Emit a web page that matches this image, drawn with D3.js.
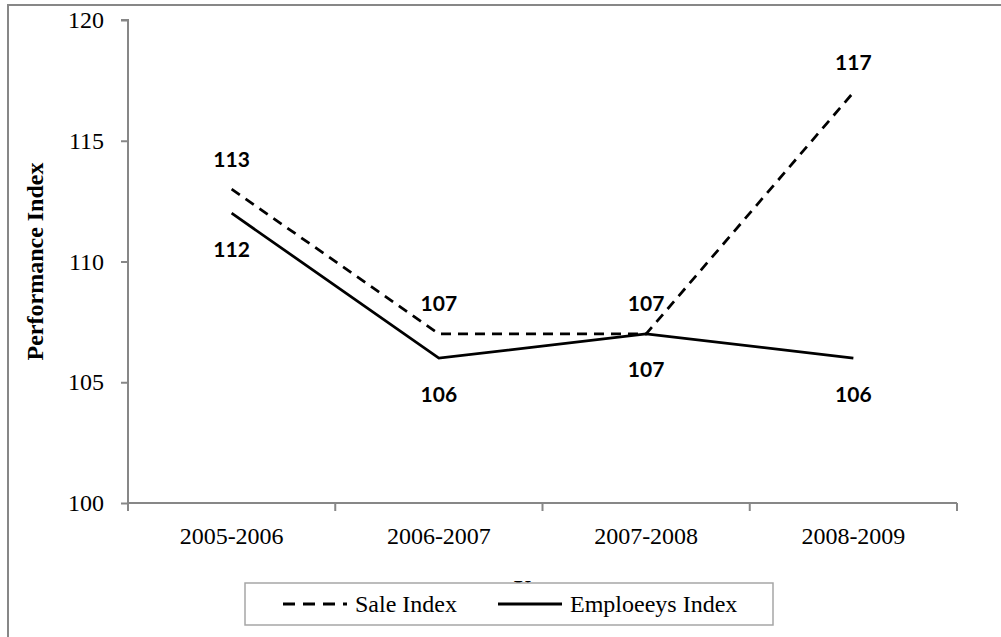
<!DOCTYPE html>
<html>
<head>
<meta charset="utf-8">
<script src="https://cdn.jsdelivr.net/npm/d3@7"></script>
<style>
  body { margin: 0; background: #fff; }
  svg { display: block; }
  .serif { font-family: "Liberation Serif", "Times New Roman", Times, serif; }
</style>
</head>
<body>
<svg width="1001" height="637"></svg>
<script>
var years = ["2005-2006", "2006-2007", "2007-2008", "2008-2009"];
var saleIndex = [113, 107, 107, 117];
var employeesIndex = [112, 106, 107, 106];
var yTicks = [100, 105, 110, 115, 120];

var svg = d3.select("svg"),
    margin = {top: 20, right: 44, bottom: 134, left: 128},
    width = 1001 - margin.left - margin.right,
    height = 637 - margin.top - margin.bottom;

var grey = "#878787";

// outer chart frame (runs off the right and bottom edge)
svg.append("rect")
    .attr("x", 8).attr("y", 5)
    .attr("width", 1200).attr("height", 800)
    .style("fill", "none").style("stroke", grey).style("stroke-width", 2);

var g = svg.append("g").attr("transform", "translate(" + margin.left + "," + margin.top + ")");

var x = d3.scaleBand().domain(years).range([0, width]);
var y = d3.scaleLinear().domain([100, 120]).range([height, 0]);

// y axis
var yAxis = g.append("g")
    .call(d3.axisLeft(y).tickValues(yTicks).tickSize(7).tickPadding(17))
    .attr("font-family", null).attr("font-size", null);
yAxis.select(".domain").style("stroke", grey).style("stroke-width", 2)
    .attr("d", "M-7,0H0V" + height);
yAxis.selectAll(".tick line").style("stroke", grey).style("stroke-width", 2);
yAxis.selectAll(".tick text")
    .attr("class", "serif")
    .style("font-size", "24px").style("fill", "#000");

// x axis, ticks between categories
var xAxis = g.append("g")
    .attr("transform", "translate(0," + height + ")")
    .call(d3.axisBottom(x).tickSize(0).tickPadding(24))
    .attr("font-family", null).attr("font-size", null);
xAxis.select(".domain").style("stroke", grey).style("stroke-width", 2)
    .attr("d", "M0,0H" + width);
xAxis.selectAll(".tick text")
    .attr("class", "serif")
    .style("font-size", "24px").style("fill", "#000");
g.append("g").selectAll("line")
    .data(d3.range(years.length + 1))
    .enter().append("line")
    .attr("x1", function(i) { return i * x.bandwidth(); })
    .attr("x2", function(i) { return i * x.bandwidth(); })
    .attr("y1", height).attr("y2", height + 8)
    .style("stroke", grey).style("stroke-width", 2);

// axis titles
svg.append("text")
    .attr("class", "serif")
    .attr("transform", "translate(43," + (margin.top + height / 2) + ") rotate(-90)")
    .attr("text-anchor", "middle")
    .style("font-weight", "bold").style("font-size", "24px")
    .text("Performance Index");

// x title sits mostly behind the legend, as in the original
svg.append("text")
    .attr("class", "serif")
    .attr("x", margin.left + width / 2).attr("y", 596)
    .attr("text-anchor", "middle")
    .style("font-weight", "bold").style("font-size", "24px")
    .text("Years");

var line = d3.line()
    .x(function(d, i) { return x(years[i]) + x.bandwidth() / 2; })
    .y(function(d) { return y(d); });

var series = [
  {name: "Sale Index", values: saleIndex, dash: "10,7", labelDy: -31},
  {name: "Emploeeys Index", values: employeesIndex, dash: null, labelDy: 35}
];

series.forEach(function(s) {
  g.append("path")
      .datum(s.values)
      .attr("d", line)
      .style("fill", "none").style("stroke", "#000")
      .style("stroke-width", 2.75)
      .style("stroke-dasharray", s.dash);

  g.append("g").selectAll("text")
      .data(s.values)
      .enter().append("text")
      .attr("x", function(d, i) { return x(years[i]) + x.bandwidth() / 2; })
      .attr("y", function(d) { return y(d) + s.labelDy; })
      .attr("text-anchor", "middle")
      .attr("dominant-baseline", "central")
      .style("font-family", "Lato, 'Open Sans', sans-serif")
      .style("font-weight", "bold").style("font-size", "21px")
      .text(function(d) { return d; });
});

// legend
var legend = svg.append("g");
legend.append("rect")
    .attr("x", 245).attr("y", 583).attr("width", 528).attr("height", 42)
    .style("fill", "#fff").style("stroke", "#a6a6a6").style("stroke-width", 1.5);

var legendItems = legend.selectAll("g")
    .data(series)
    .enter().append("g")
    .attr("transform", function(d, i) { return "translate(" + (i === 0 ? 283 : 498) + ",604)"; });
legendItems.append("line")
    .attr("x1", 0).attr("x2", 64).attr("y1", 0).attr("y2", 0)
    .style("stroke", "#000").style("stroke-width", 3)
    .style("stroke-dasharray", function(d) { return d.dash ? "12,8" : null; });
legendItems.append("text")
    .attr("class", "serif")
    .attr("x", 72).attr("y", 0)
    .attr("dominant-baseline", "central")
    .style("font-size", "24px")
    .text(function(d) { return d.name; });
</script>
</body>
</html>
